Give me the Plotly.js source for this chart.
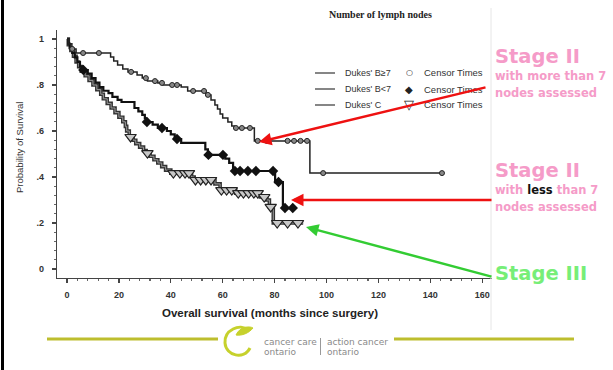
<!DOCTYPE html>
<html><head><meta charset="utf-8">
<script src="https://cdn.plot.ly/plotly-3.0.1.min.js"></script>
<style>html,body{margin:0;padding:0;background:#fff}#chart{width:613px;height:370px}</style>
</head><body><div id="chart"></div>
<script>
// Kaplan-Meier step data (months, survival probability)
const timesB7 = [0,0.5,1.5,3.5,16.8,18,19.5,21.5,23.5,27,29,31,35,37,44,46.5,53.5,55.5,57,58,59,60,62,63.5,64.5,72.2,93.6,144.5];
const survB7  = [1,0.978,0.957,0.939,0.922,0.904,0.887,0.870,0.857,0.843,0.830,0.817,0.809,0.800,0.791,0.774,0.757,0.735,0.713,0.696,0.674,0.657,0.639,0.622,0.613,0.557,0.417,0.417];
const censorB7 = [2,6.2,12.3,24.7,30.4,33.9,36.6,40.5,42.4,48.6,52.8,54.3,65.1,67.4,70.5,73.5,77,85,87.5,90,92.5,98.7,144.5];

const timesBlt7 = [0,0.5,1,2,3,4,5,6,8,9.5,11,12.5,14,16,17.5,19.5,21,26,27.5,29,30,30.5,33,35,38.5,40,41.5,44,53.3,54.3,61,62.5,64,80.2,83.2,87.9];
const survBlt7  = [1,0.98,0.96,0.94,0.92,0.90,0.88,0.865,0.85,0.83,0.81,0.791,0.775,0.765,0.748,0.735,0.726,0.70,0.685,0.67,0.655,0.639,0.628,0.613,0.60,0.585,0.565,0.548,0.52,0.496,0.48,0.461,0.426,0.378,0.265,0.265];
const censorBlt7 = [6.3,30.8,36.6,42.4,54.5,60.1,64.7,66.7,69.7,72.8,79.4,81.5,84,87];

const timesC = [0,0.5,1.5,2.5,3.5,4.5,5.5,7,8.5,10,11.5,13,14,15.5,17,18.5,20,21.5,22.5,23,24,25.5,26.5,28,29.5,30.5,32,33.5,35,36.5,38,40,48,49,57,59,65,74.5,77,78,79.5,91];
const survC  = [1,0.975,0.95,0.925,0.90,0.88,0.86,0.84,0.82,0.80,0.78,0.76,0.74,0.72,0.70,0.68,0.66,0.64,0.62,0.60,0.574,0.56,0.545,0.53,0.515,0.504,0.49,0.475,0.461,0.445,0.43,0.417,0.40,0.387,0.37,0.343,0.33,0.313,0.30,0.27,0.20,0.20];
const censorC = [24.5,31,41,43.5,45.5,47,49.5,51.5,53.5,55.5,59.5,61.5,63.5,66,68,70,72,73.5,76,78.5,81,85,89];

const xTickVals = [0,20,40,60,80,100,120,140,160];
const yTickVals = [0,0.2,0.4,0.6,0.8,1];
const yTickText = ['0','.2','.4','.6','.8','1'];
const legendNames = ["Dukes' B\u22657","Dukes' B<7","Dukes' C"];
const legendCensor = ["Censor Times","Censor Times","Censor Times"];

function survAt(times, surv, t){
  let s = surv[0];
  for (let i=0;i<times.length;i++){ if (times[i] <= t) s = surv[i]; }
  return s;
}

// plot area in pixels
const L=57, R=492, T=30, B=278;
const px = p => (p-L)/(R-L);
const py = p => (B-p)/(B-T);

const traces = [
  {x: timesC, y: survC, mode:'lines', line:{shape:'hv', color:'#333', width:3.6}, hoverinfo:'skip'},
  {x: timesC, y: survC, mode:'lines', line:{shape:'hv', color:'#9a9a9a', width:1}, hoverinfo:'skip'},
  {x: censorC, y: censorC.map(t=>survAt(timesC,survC,t)), mode:'markers',
   marker:{symbol:'triangle-down', size:10, color:'#c8c8c8', line:{color:'#222', width:1.2}}},
  {x: timesBlt7, y: survBlt7, mode:'lines', line:{shape:'hv', color:'#111', width:2.2}},
  {x: censorBlt7, y: censorBlt7.map(t=>survAt(timesBlt7,survBlt7,t)), mode:'markers',
   marker:{symbol:'diamond', size:8, color:'#111'}},
  {x: timesB7, y: survB7, mode:'lines', line:{shape:'hv', color:'#222', width:1.5}},
  {x: censorB7, y: censorB7.map(t=>survAt(timesB7,survB7,t)), mode:'markers',
   marker:{symbol:'circle', size:5, color:'#888', line:{color:'#222', width:1}}}
];

const tf = {family:'Liberation Sans, Arial, sans-serif', size:9, color:'#333', weight:'bold'};
const annotations = [];
const shapes = [];
function txt(x, y, text, font, xanchor, extra){
  annotations.push(Object.assign({xref:'paper', yref:'paper', x:px(x), y:py(y), text, font,
    showarrow:false, xanchor:xanchor||'center', yanchor:'middle'}, extra||{}));
}

// titles
txt(380, 14, 'Number of lymph nodes', {family:'Liberation Serif, Times New Roman, serif',size:10,color:'#222',weight:'bold'});
txt(270, 313, 'Overall survival (months since surgery)', {family:'Liberation Sans, Arial, sans-serif',size:11.5,color:'#222',weight:'bold'});
txt(19, 148, 'Probability of Survival', {family:'Liberation Sans, Arial, sans-serif',size:9.5,color:'#333'}, 'center', {textangle:-90});

// legend
const legY = [73,89,105];
const legSym = ['\u25CB','\u25C6','\u25BD'];
const legSymSize = [8,10,13];
const lgF = {family:'Liberation Sans, Arial, sans-serif',size:9,color:'#333'};
const lgF2 = {family:'Liberation Sans, Arial, sans-serif',size:9.5,color:'#333'};
for (let i=0;i<3;i++){
  shapes.push({type:'line',xref:'paper',yref:'paper',x0:px(315),x1:px(335),y0:py(legY[i]),y1:py(legY[i]),line:{color:'#444',width:1.3}});
  txt(343, legY[i], legendNames[i], lgF, 'left');
  txt(409, legY[i], legSym[i], {family:'DejaVu Sans, sans-serif',size:legSymSize[i],color:'#222'});
  txt(422, legY[i], legendCensor[i], lgF2, 'left');
}

// right-side labels
const pink='#F59BC8', green='#77EE77';
const bigF = c => ({family:'DejaVu Sans, sans-serif',size:19.5,color:c,weight:'bold'});
const smF = c => ({family:'DejaVu Sans, sans-serif',size:11.5,color:c,weight:'bold'});
txt(493, 56, 'Stage II', bigF(pink), 'left');
txt(493, 76, 'with more than 7', smF(pink), 'left');
txt(493, 93, 'nodes assessed', smF(pink), 'left');
txt(493, 170, 'Stage II', bigF(pink), 'left');
txt(493, 190, 'with <span style="color:#111">less</span> than 7', smF(pink), 'left');
txt(493, 207, 'nodes assessed', smF(pink), 'left');
txt(493, 273, 'Stage III', bigF(green), 'left');

// arrows
annotations.push({xref:'paper',yref:'paper',x:px(259),y:py(142),ax:487-259,ay:87-142,text:'',showarrow:true,
  arrowhead:2,arrowsize:1,arrowwidth:2.5,arrowcolor:'#EE1111'});
annotations.push({xref:'paper',yref:'paper',x:px(291),y:py(200),ax:493-291,ay:0,text:'',showarrow:true,
  arrowhead:2,arrowsize:1,arrowwidth:2.5,arrowcolor:'#EE1111'});
annotations.push({xref:'paper',yref:'paper',x:px(306),y:py(227),ax:493-306,ay:277-227,text:'',showarrow:true,
  arrowhead:2,arrowsize:1,arrowwidth:2.5,arrowcolor:'#33CC33'});

// slide border and footer
shapes.push({type:'line',xref:'paper',yref:'paper',x0:px(2.5),x1:px(2.5),y0:py(0),y1:py(370),line:{color:'#000',width:3}});
shapes.push({type:'line',xref:'paper',yref:'paper',x0:px(491),x1:px(491),y0:py(8),y1:py(330),line:{color:'#e6e6e6',width:1}});
shapes.push({type:'line',xref:'paper',yref:'paper',x0:px(47),x1:px(218),y0:py(339),y1:py(339),line:{color:'#BDBE2E',width:3}});
shapes.push({type:'line',xref:'paper',yref:'paper',x0:px(394),x1:px(574),y0:py(339),y1:py(339),line:{color:'#BDBE2E',width:3}});
// logo swirl
shapes.push({type:'path',xref:'paper',yref:'paper',
  path:`M ${px(248)} ${py(330)} C ${px(240)} ${py(323)}, ${px(224)} ${py(330)}, ${px(225)} ${py(343)} C ${px(226)} ${py(356)}, ${px(244)} ${py(360)}, ${px(250)} ${py(348)}`,
  line:{color:'#C6D12C',width:3}});
shapes.push({type:'path',xref:'paper',yref:'paper',
  path:`M ${px(236)} ${py(335)} C ${px(240)} ${py(326)}, ${px(250)} ${py(326)}, ${px(253)} ${py(328)} C ${px(249)} ${py(333)}, ${px(242)} ${py(336)}, ${px(236)} ${py(335)} Z`,
  fillcolor:'#C6D12C',line:{color:'#C6D12C',width:1}});
shapes.push({type:'line',xref:'paper',yref:'paper',x0:px(320.5),x1:px(320.5),y0:py(338),y1:py(355),line:{color:'#999',width:1}});
const lf = {family:'DejaVu Sans, sans-serif',size:9,color:'#8a8a8a'};
txt(262, 342, 'cancer care', lf, 'left');
txt(262, 352, 'ontario', lf, 'left');
txt(325, 342, 'action cancer', lf, 'left');
txt(325, 352, 'ontario', lf, 'left');

const layout = {
  width:613, height:370, showlegend:false,
  paper_bgcolor:'#fff', plot_bgcolor:'#fff',
  margin:{l:L, r:613-R, t:T, b:370-B, pad:0},
  xaxis:{range:[(L-67)/2.595,(R-67)/2.595], tickvals:xTickVals, ticks:'outside', ticklen:4, tickwidth:1.2, tickcolor:'#444',
    showline:true, linecolor:'#444', linewidth:1.3, showgrid:false, zeroline:false, tickfont:tf, ticklabelstandoff:4,
    minor:{dtick:4, ticks:'outside', ticklen:2, tickcolor:'#666', showgrid:false}},
  yaxis:{range:[(269-B)/230,(269-T)/230], tickvals:yTickVals, ticktext:yTickText, ticks:'outside', ticklen:4, tickwidth:1.2, tickcolor:'#444',
    showline:true, linecolor:'#444', linewidth:1.3, showgrid:false, zeroline:false, tickfont:tf, ticklabelstandoff:6,
    minor:{dtick:0.04, ticks:'outside', ticklen:2, tickcolor:'#666', showgrid:false}},
  annotations, shapes
};
Plotly.newPlot('chart', traces, layout, {staticPlot:true, displayModeBar:false});
</script></body></html>
